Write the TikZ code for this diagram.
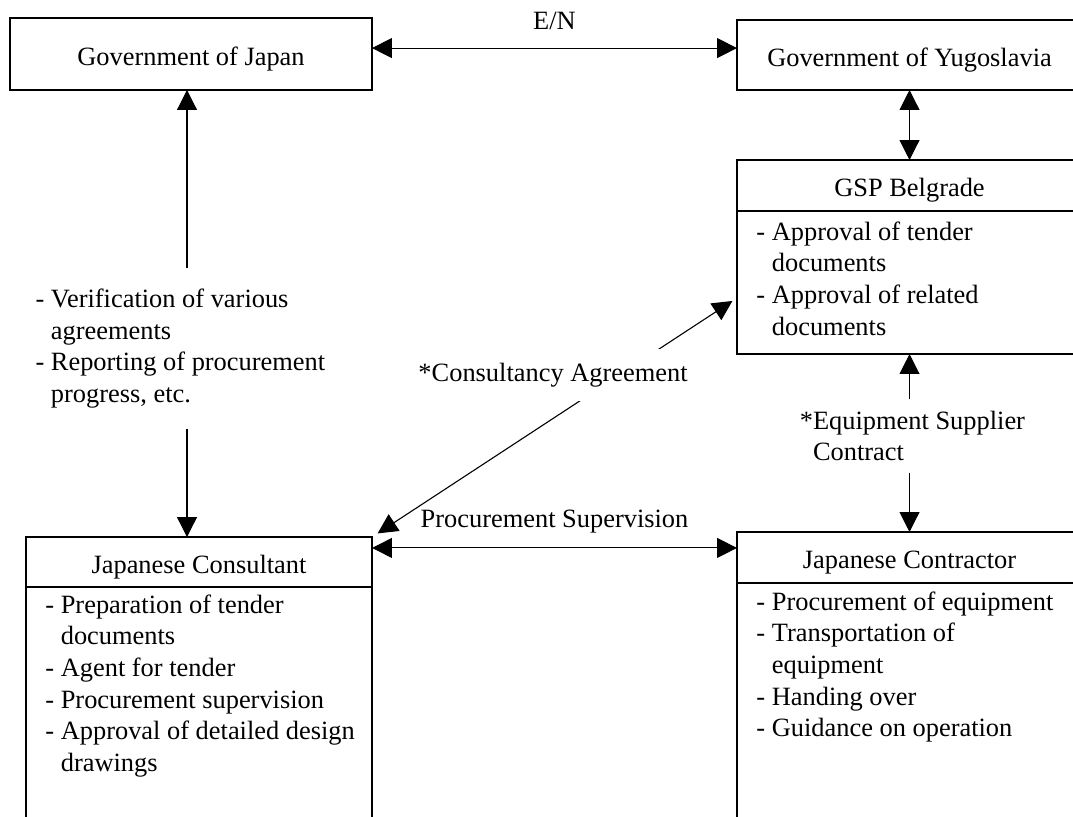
\documentclass[tikz,border=0pt]{standalone}
\usepackage{fontspec}
\setmainfont{Liberation Serif}
\usetikzlibrary{arrows.meta}
\usetikzlibrary{positioning}

\begin{document}
\begin{tikzpicture}
[x=0.4545pt,y=-0.4545pt,>={Triangle[length=9pt,width=9pt]},line width=0.5pt,%
  head/.style={draw,line width=0.6pt,inner sep=0pt,outer sep=0pt,minimum height=23.2pt,
    text height=10pt,text depth=0pt},
  body/.style={draw,line width=0.6pt,inner sep=0pt,outer sep=0pt},
  items/.style={inner sep=0pt,align=left},
  lbl/.style={inner xsep=0pt,align=left}]
\fontsize{12}{14.4}\selectfont
\useasboundingbox (0,0) rectangle (1073,816);
\clip (0,0) rectangle (1073,816);
%% governments
\node[head,minimum width=164.5pt,minimum height=32.7pt] (gj) at (191,54) {Government of Japan};
\node[head,minimum width=156.8pt,minimum height=31.8pt] (gy) at (909.5,55) {Government of Yugoslavia};
%% GSP Belgrade
\node[head,minimum width=156.8pt] (gsp) at (909.5,185.5) {GSP Belgrade};
\node[body,minimum width=156.8pt,minimum height=65pt] (gspbody) [below=0pt of gsp] {};
\node[items] (gsplist) [below right=4.5pt and 8.6pt of gspbody.north west]
  {- Approval of tender\\\phantom{- }documents\\- Approval of related\\\phantom{- }documents};
%% consultant and contractor
\node[head,minimum width=157.3pt,minimum height=22.7pt] (cons) at (199,562) {Japanese Consultant};
\node[body,minimum width=157.3pt,minimum height=140pt] (consbody) [below=0pt of cons] {};
\node[items] (conslist) [below right=3.2pt and 8.6pt of consbody.north west]
  {- Preparation of tender\\\phantom{- }documents\\- Agent for tender\\- Procurement supervision\\- Approval of detailed design\\\phantom{- }drawings};
\node[head,minimum width=156.8pt] (contr) at (909.5,557.5) {Japanese Contractor};
\node[body,minimum width=156.8pt,minimum height=140pt] (contrbody) [below=0pt of contr] {};
\node[items] (contrlist) [below right=3.6pt and 8.6pt of contrbody.north west]
  {- Procurement of equipment\\- Transportation of\\\phantom{- }equipment\\- Handing over\\- Guidance on operation};
%% labels between the boxes
\coordinate (vx) at (187,0);
\node[lbl,inner ysep=9pt,anchor=west] (verlbl) at (35,348.5)
  {- Verification of various\\\phantom{- }agreements\\- Reporting of procurement\\\phantom{- }progress, etc.};
\node[lbl,inner ysep=5pt] (eqlbl) at (919,436) {\llap{*}Equipment Supplier\\Contract};
%% connectors
\path[<->]
([yshift=2.7pt]gj.east) edge node[above=4pt] (enlbl) {E/N} ([yshift=2.7pt]gj.east -| gy.west)
(gy.south) edge (gsp.north)
([yshift=6.4pt]cons.east) edge node[above=2.5pt] (pslbl) {Procurement Supervision} ([yshift=6.4pt]cons.east -| contr.west)
(cons.north east) edge[shorten <=3pt,shorten >=2.5pt]
  node[fill=white,inner xsep=1pt,inner ysep=6.2pt,pos=0.678,xshift=-30.2pt] (calbl) {*Consultancy Agreement}
  ([yshift=-7pt]gspbody.west);
\path[->]
(verlbl.north -| vx) edge (gj.south -| vx)
(verlbl.south -| vx) edge (cons.north -| vx)
(eqlbl.north -| gspbody.south) edge (gspbody.south)
(eqlbl.south -| contr.north) edge (contr.north);
\end{tikzpicture}
\end{document}
